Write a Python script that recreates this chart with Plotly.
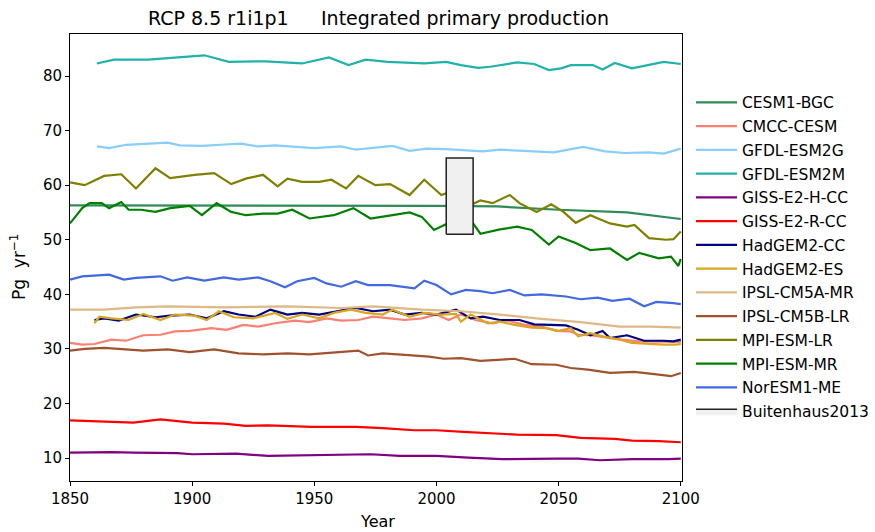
import plotly.graph_objects as go

# ---- data (year, Pg/yr) ----
cesm_x = [1850, 1900, 1950, 2000, 2025, 2050, 2078, 2100]
cesm_y = [56.3, 56.3, 56.2, 56.2, 56.1, 55.5, 55.0, 53.8]

cmcc_x = [1850, 1855, 1860, 1867, 1873, 1880, 1887, 1893, 1899, 1908, 1914, 1921, 1927, 1934, 1942, 1948,
          1955, 1961, 1968, 1974, 1981, 1987, 1994, 2000, 2005, 2010, 2016, 2023, 2029, 2036, 2043, 2049,
          2055, 2058, 2063, 2070, 2076, 2083, 2091, 2100]
cmcc_y = [31.1, 30.8, 30.9, 31.7, 31.5, 32.5, 32.6, 33.2, 33.3, 33.8, 33.5, 34.4, 34.1, 34.7, 35.2, 34.9,
          35.6, 35.2, 35.3, 35.9, 35.6, 35.3, 35.6, 36.3, 35.3, 36.3, 35.3, 34.7, 35.2, 34.4, 34.1, 33.3,
          33.2, 32.6, 32.5, 32.0, 31.7, 31.4, 31.3, 31.3]

gfdlg_x = [1861, 1866, 1873, 1890, 1895, 1904, 1915, 1920, 1927, 1934, 1950, 1961, 1967, 1982, 1989,
           1996, 2004, 2019, 2026, 2037, 2048, 2060, 2069, 2077, 2087, 2093, 2100]
gfdlg_y = [67.1, 66.8, 67.4, 67.8, 67.3, 67.2, 67.5, 67.6, 67.1, 67.3, 66.8, 67.1, 66.5, 67.2, 66.3,
           66.7, 66.6, 66.2, 66.5, 66.2, 66.0, 67.0, 66.2, 65.9, 66.0, 65.8, 66.7]

gfdlm_x = [1861, 1868, 1882, 1905, 1915, 1930, 1945, 1956, 1964, 1971, 1980, 1995, 2004, 2010, 2017,
           2022, 2033, 2040, 2046, 2051, 2055, 2064, 2068, 2073, 2080, 2087, 2093, 2100]
gfdlm_y = [82.3, 83.0, 83.0, 83.8, 82.6, 82.7, 82.3, 83.4, 82.0, 83.0, 82.6, 82.3, 82.6, 82.0, 81.5,
           81.7, 82.5, 82.2, 81.1, 81.4, 82.0, 82.0, 81.2, 82.4, 81.4, 82.0, 82.6, 82.2]

gissh_x = [1850, 1867, 1876, 1894, 1900, 1918, 1931, 1949, 1973, 1985, 2000, 2013, 2027, 2049, 2058,
           2067, 2080, 2095, 2100]
gissh_y = [11.0, 11.1, 11.0, 10.9, 10.7, 10.8, 10.4, 10.5, 10.7, 10.4, 10.4, 10.1, 9.8, 9.9, 9.9,
           9.6, 9.8, 9.8, 9.9]

gissr_x = [1850, 1867, 1876, 1887, 1900, 1913, 1922, 1931, 1949, 1967, 1978, 1991, 2000, 2011, 2022,
           2033, 2049, 2059, 2073, 2080, 2091, 2100]
gissr_y = [16.9, 16.7, 16.5, 17.1, 16.5, 16.3, 15.9, 16.0, 15.7, 15.7, 15.5, 15.1, 15.1, 14.8, 14.5,
           14.3, 14.2, 13.7, 13.5, 13.2, 13.1, 12.9]

hadcc_x = [1860, 1864, 1870, 1877, 1885, 1891, 1899, 1906, 1913, 1919, 1926, 1932, 1939, 1945, 1952,
           1960, 1967, 1974, 1981, 1987, 1994, 2000, 2008, 2014, 2019, 2026, 2034, 2040, 2047, 2053,
           2058, 2063, 2068, 2071, 2078, 2085, 2093, 2097, 2100]
hadcc_y = [35.3, 35.6, 35.2, 36.3, 35.8, 36.1, 36.3, 35.6, 36.9, 36.3, 35.9, 37.2, 36.3, 36.6, 36.3,
           36.9, 37.5, 36.9, 37.2, 36.3, 36.6, 36.3, 37.2, 35.6, 35.9, 35.3, 35.3, 34.5, 34.4, 34.3,
           33.5, 32.5, 33.3, 32.0, 32.5, 31.5, 31.5, 31.4, 31.7]

hades_x = [1860, 1862, 1867, 1874, 1880, 1887, 1893, 1901, 1906, 1911, 1917, 1925, 1934, 1939, 1945,
           1952, 1958, 1965, 1971, 1978, 1982, 1989, 1995, 2002, 2008, 2010, 2014, 2021, 2026, 2032,
           2039, 2045, 2050, 2055, 2058, 2063, 2068, 2075, 2080, 2086, 2093, 2098, 2100]
hades_y = [34.7, 35.9, 35.6, 35.3, 36.4, 35.3, 36.3, 36.1, 35.3, 36.9, 35.8, 35.6, 36.6, 35.5, 36.3,
           35.6, 36.6, 37.2, 36.6, 36.3, 37.2, 35.9, 36.6, 36.3, 36.4, 35.0, 36.3, 34.7, 35.0, 34.4,
           33.9, 33.8, 33.3, 33.8, 32.3, 32.9, 32.3, 31.7, 31.1, 30.9, 30.8, 30.8, 30.9]

ipsla_x = [1850, 1864, 1877, 1890, 1913, 1939, 1961, 1974, 1994, 2010, 2026, 2043, 2059, 2075, 2088, 2100]
ipsla_y = [37.2, 37.2, 37.6, 37.8, 37.6, 37.8, 37.5, 37.8, 37.2, 36.9, 36.3, 35.5, 34.9, 34.1, 34.1, 33.9]

ipslb_x = [1850, 1856, 1864, 1872, 1880, 1890, 1899, 1909, 1919, 1929, 1939, 1948, 1958, 1968, 1972,
           1978, 1987, 1997, 2003, 2010, 2018, 2026, 2032, 2039, 2049, 2055, 2062, 2071, 2081, 2091,
           2096, 2100]
ipslb_y = [29.7, 30.0, 30.2, 30.0, 29.7, 29.9, 29.4, 29.9, 29.2, 29.0, 29.2, 29.0, 29.4, 29.7, 28.8,
           29.2, 28.9, 28.6, 28.2, 28.3, 27.8, 28.0, 28.2, 27.2, 27.1, 26.5, 26.2, 25.6, 25.8, 25.3,
           25.0, 25.6]

mpilr_x = [1850, 1856, 1864, 1871, 1877, 1885, 1891, 1901, 1909, 1916, 1922, 1929, 1935, 1939, 1945,
           1952, 1957, 1963, 1968, 1975, 1981, 1989, 1995, 2002, 2007, 2010, 2014, 2018, 2023, 2030,
           2034, 2041, 2047, 2052, 2057, 2063, 2071, 2078, 2081, 2087, 2094, 2097, 2100]
mpilr_y = [60.5, 60.0, 61.7, 62.0, 59.4, 63.1, 61.3, 61.9, 62.2, 60.2, 61.2, 61.9, 59.8, 61.2, 60.6,
           60.6, 61.0, 59.4, 61.7, 60.0, 60.2, 58.2, 61.0, 58.2, 59.0, 58.5, 56.4, 57.2, 56.7, 58.2,
           56.7, 55.1, 56.5, 55.1, 53.1, 54.5, 53.0, 52.4, 52.7, 50.3, 50.0, 50.1, 51.5]

mpimr_x = [1850, 1855, 1858, 1863, 1866, 1871, 1874, 1879, 1885, 1891, 1899, 1904, 1910, 1916, 1922,
           1929, 1935, 1941, 1948, 1958, 1966, 1973, 1982, 1989, 1994, 1999, 2006, 2010, 2014, 2018,
           2026, 2033, 2039, 2046, 2050, 2057, 2063, 2071, 2078, 2083, 2091, 2096, 2099, 2100]
mpimr_y = [53.0, 55.8, 56.7, 56.7, 55.8, 56.9, 55.5, 55.5, 55.1, 55.8, 56.2, 54.5, 56.7, 55.1, 54.5,
           54.8, 54.8, 55.5, 53.9, 54.5, 55.8, 53.9, 54.5, 55.0, 54.2, 51.8, 53.3, 54.7, 53.6, 51.1,
           51.9, 52.4, 51.8, 49.1, 50.6, 49.4, 48.1, 48.4, 46.3, 47.6, 46.6, 46.9, 45.2, 46.5]

nor_x = [1850, 1855, 1866, 1872, 1877, 1887, 1892, 1898, 1905, 1913, 1919, 1927, 1932, 1938, 1943,
         1950, 1955, 1961, 1967, 1972, 1981, 1991, 1995, 2000, 2006, 2012, 2018, 2023, 2030, 2036,
         2043, 2053, 2059, 2066, 2072, 2079, 2085, 2090, 2097, 2100]
nor_y = [42.7, 43.3, 43.6, 42.7, 43.0, 43.3, 42.5, 43.1, 42.5, 43.1, 42.7, 43.1, 42.4, 41.3, 42.4,
         43.0, 42.0, 41.4, 42.4, 41.7, 41.7, 41.1, 42.5, 41.7, 40.0, 40.8, 40.6, 40.2, 40.8, 39.8,
         40.0, 39.6, 39.1, 39.4, 38.8, 39.2, 37.8, 38.6, 38.4, 38.2]

box_x = [2004, 2015, 2015, 2004, 2004]
box_y = [51, 51, 65, 65, 51]

series = [
    ("CESM1-BGC", cesm_x, cesm_y, "#2e8b57"),
    ("CMCC-CESM", cmcc_x, cmcc_y, "#fa8072"),
    ("GFDL-ESM2G", gfdlg_x, gfdlg_y, "#87cefa"),
    ("GFDL-ESM2M", gfdlm_x, gfdlm_y, "#20b2aa"),
    ("GISS-E2-H-CC", gissh_x, gissh_y, "#800080"),
    ("GISS-E2-R-CC", gissr_x, gissr_y, "#ff0000"),
    ("HadGEM2-CC", hadcc_x, hadcc_y, "#000080"),
    ("HadGEM2-ES", hades_x, hades_y, "#daa520"),
    ("IPSL-CM5A-MR", ipsla_x, ipsla_y, "#deb887"),
    ("IPSL-CM5B-LR", ipslb_x, ipslb_y, "#a0522d"),
    ("MPI-ESM-LR", mpilr_x, mpilr_y, "#808000"),
    ("MPI-ESM-MR", mpimr_x, mpimr_y, "#008000"),
    ("NorESM1-ME", nor_x, nor_y, "#4169e1"),
]

fig = go.Figure()
for i, (name, xs, ys, col) in enumerate(series):
    fig.add_trace(go.Scatter(x=xs, y=ys, mode="lines", name=name,
                             line=dict(color=col, width=2.2), legendgroup=f"g{i}"))

fig.add_trace(go.Scatter(x=box_x, y=box_y, mode="lines", fill="toself",
                         fillcolor="#f0f0f0", line=dict(color="#222222", width=1.5),
                         name="Buitenhaus2013", legendgroup="box"))

FONT = "DejaVu Sans"
tick_font = dict(family=FONT, size=15, color="black")

# plot area in page pixels
PL, PR, PT, PB = 70, 682, 34, 481
def px(x):
    return (x - PL) / (PR - PL)
def py(y):
    return (PB - y) / (PB - PT)

def label(text, x, y, size, angle=0):
    return dict(text=text, x=px(x), y=py(y), xref="paper", yref="paper", showarrow=False,
                xanchor="center", yanchor="middle", textangle=angle,
                font=dict(family=FONT, size=size, color="black"))

fig.update_layout(
    width=875, height=532,
    margin=dict(l=PL, r=875 - PR, t=PT, b=532 - PB, autoexpand=False),
    plot_bgcolor="white", paper_bgcolor="white",
    showlegend=True,
    legend=dict(x=1.0147, y=0.884, xanchor="left", yanchor="top", itemwidth=41,
                font=dict(family=FONT, size=15.5, color="black"),
                tracegroupgap=0.6, bgcolor="rgba(0,0,0,0)"),
    annotations=[
        label("RCP 8.5 r1i1p1", 218, 18, 19),
        label("Integrated primary production", 465, 18, 19),
        label("Year", 377, 521, 16),
        label("Pg\u00a0 yr<sup>\u22121</sup>", 18, 267, 17, angle=-90),
    ],
)

fig.update_xaxes(range=[1850, 2100.5], tickvals=[1850, 1900, 1950, 2000, 2050, 2100],
                 ticks="outside", ticklen=4, tickcolor="black", showline=True, linecolor="black",
                 linewidth=1, mirror=True, showgrid=False, zeroline=False, tickfont=tick_font,
                 automargin=False)
fig.update_yaxes(range=[5.8, 87.7], tickvals=[10, 20, 30, 40, 50, 60, 70, 80],
                 ticks="outside", ticklen=4, tickcolor="black", showline=True, linecolor="black",
                 linewidth=1, mirror=True, showgrid=False, zeroline=False, tickfont=tick_font,
                 automargin=False)

# remove the browser's default 8px body margin so the figure fills the window exactly
fig.write_html("out.html", config={"displayModeBar": False},
               post_script="document.body.style.margin='0';document.body.style.overflow='hidden';")
